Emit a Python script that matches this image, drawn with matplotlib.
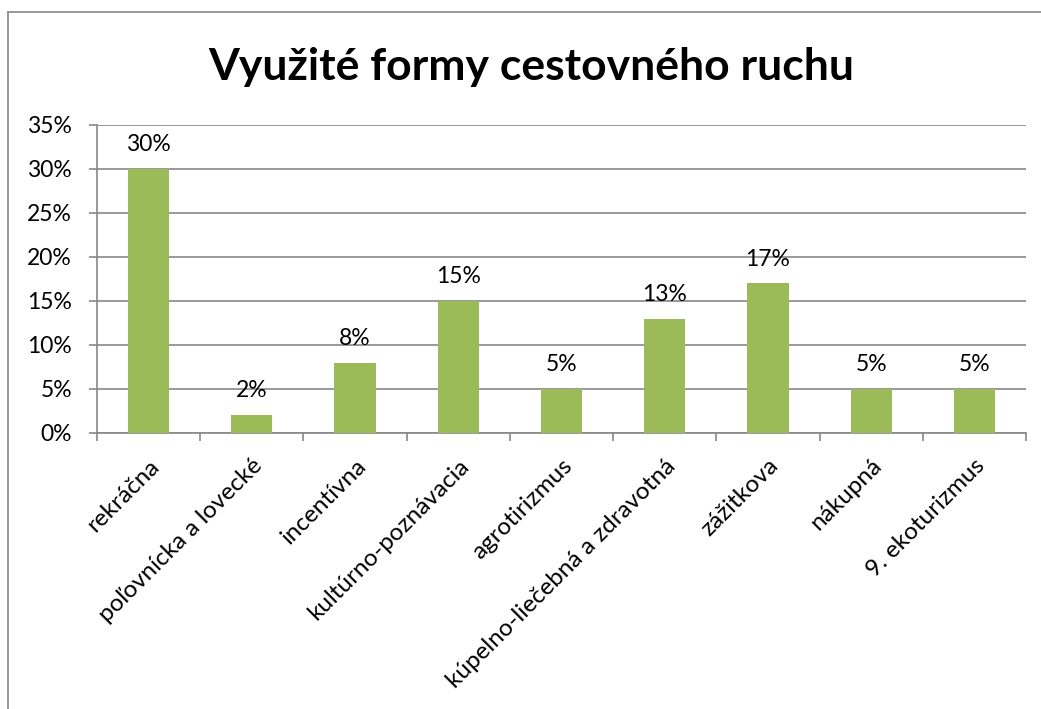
import matplotlib.pyplot as plt
from matplotlib.lines import Line2D
from matplotlib.ticker import PercentFormatter
import numpy as np

plt.rcParams['font.family'] = ['Lato', 'DejaVu Sans']

categories = ['rekráčna', 'poľovnícka a lovecké', 'incentívna', 'kultúrno-poznávacia',
              'agrotirizmus', 'kúpelno-liečebná a zdravotná', 'zážitkova', 'nákupná',
              '9. ekoturizmus']
values = [30, 2, 8, 15, 5, 13, 17, 5, 5]
y_ticks = [0, 5, 10, 15, 20, 25, 30, 35]
title = 'Využité formy cestovného ruchu'

bar_color = '#9BBB59'
grid_color = '#888888'

fig = plt.figure(figsize=(10.41, 7.09), dpi=100)
ax = fig.add_axes([0.0932, 0.3893, 0.8924, 0.4344])

x = np.arange(len(categories))
ax.bar(x, values, width=0.4, color=bar_color, zorder=3)

for xi, v in zip(x, values):
    ax.annotate(f'{v}%', (xi, v), xytext=(0, 10), textcoords='offset points',
                ha='center', va='bottom', fontsize=16.5)

ax.set_xlim(-0.5, len(categories) - 0.5)
ax.set_ylim(0, 35)
ax.set_yticks(y_ticks)
ax.yaxis.set_major_formatter(PercentFormatter(decimals=0))
ax.grid(axis='y', color=grid_color, linewidth=1.2, zorder=0)

ax.set_xticks(x)
ax.set_xticklabels(categories, rotation=45, ha='right', rotation_mode='anchor', fontsize=17.5)
ax.set_xticks(np.arange(len(categories) + 1) - 0.5, minor=True)
ax.tick_params(axis='x', which='major', length=0, pad=16)
ax.tick_params(axis='x', which='minor', length=6, color=grid_color, width=1.2)
ax.tick_params(axis='y', length=6, color=grid_color, width=1.2, labelsize=16.5, pad=12)

for side in ['top', 'right']:
    ax.spines[side].set_visible(False)
for side in ['left', 'bottom']:
    ax.spines[side].set_color(grid_color)
    ax.spines[side].set_linewidth(1.2)

fig.text(0.51, 0.905, title, ha='center', va='center', fontsize=32, fontweight='bold')

# outer chart border (cropped at right and bottom)
bx, by = 8 / 1041, 1 - 12 / 709
fig.add_artist(Line2D([bx, bx], [0, by], color='#888888', linewidth=1.2))
fig.add_artist(Line2D([bx, 1], [by, by], color='#888888', linewidth=1.2))

fig.savefig('out.png', dpi=100)
